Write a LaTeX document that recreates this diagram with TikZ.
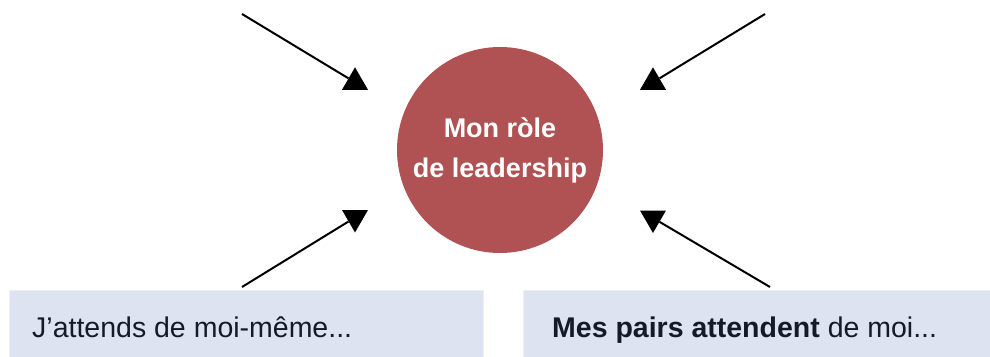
\documentclass[tikz,border=0pt]{standalone}
\usepackage{fontspec}
\setmainfont{Liberation Sans}
\usepackage{tikz}
\usetikzlibrary{shapes.geometric}

\definecolor{rolered}{RGB}{176,81,83}
\definecolor{boxfill}{RGB}{221,227,240}
\definecolor{boxedge}{RGB}{236,239,246}
\definecolor{boxink}{RGB}{22,26,40}

\tikzset{
	rolecircle/.style={circle, fill=rolered, minimum size=206pt, inner sep=0pt,
		text=white, align=center, font=\bfseries\fontsize{27}{40}\selectfont},
	expbox/.style={rectangle, fill=boxfill, draw=boxedge, line width=1pt,
		minimum width=474pt, minimum height=68pt, inner sep=0pt, anchor=north west},
	exptext/.style={anchor=base west, inner sep=0pt, text=boxink,
		font=\fontsize{28.5}{32}\selectfont},
	headup/.style={regular polygon, regular polygon sides=3, fill=black,
		minimum size=30pt, inner sep=0pt},
	headdown/.style={headup, shape border rotate=180},
	feed/.style={line width=2pt}
}

\begin{document}
\begin{tikzpicture}[x=1pt,y=-1pt]
	
	\useasboundingbox (0,0) rectangle (990,356);
	
	\node[rolecircle] (role) at (500,150) {Mon ròle\\de leadership};
	
	\node[expbox] (selfbox) at (9,290) {};
	
	\node[expbox, minimum width=468pt] (peerbox) at (523,290) {};
	
	\node[exptext] (selftext) at (32,337) {J'attends de moi-même...};
	
	\node[exptext] (peertext) at (552,337) {\textbf{Mes pairs attendent} de moi...};
	
	\node[headup] (tlhead) at (355,82.3) {};
	
	\node[headup] (trhead) at (653,82.3) {};
	
	\node[headdown] (blhead) at (355,217.5) {};
	
	\node[headdown] (brhead) at (653,218) {};
	
	\coordinate (tl) at (242,14);
	\coordinate (tr) at (765,14);
	\coordinate (bl) at (242,287);
	\coordinate (br) at (770,287);
	
	\draw[feed] (tl) -- (tlhead);
	\draw[feed] (tr) -- (trhead);
	\draw[feed] (bl) -- (blhead);
	\draw[feed] (br) -- (brhead);
	
\end{tikzpicture}
\end{document}
